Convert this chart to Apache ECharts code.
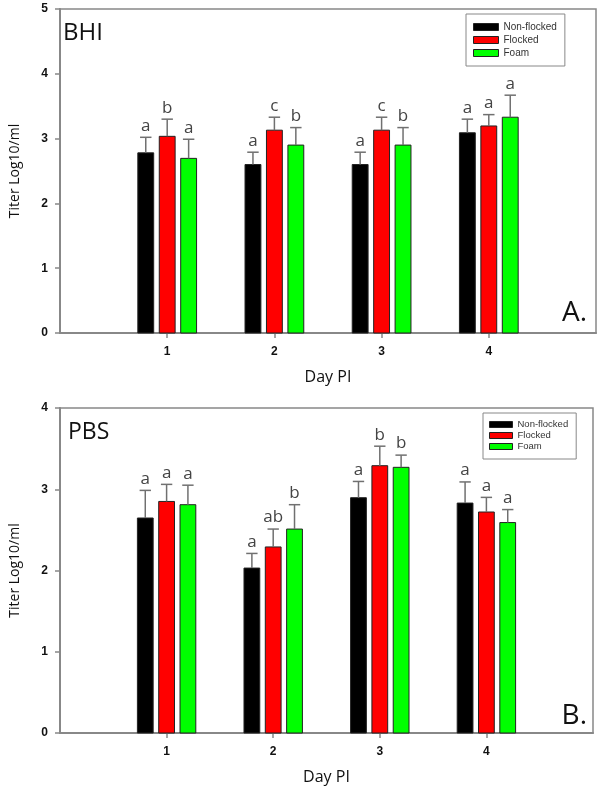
<!DOCTYPE html>
<html><head><meta charset="utf-8">
<script src="https://cdn.jsdelivr.net/npm/echarts@6/dist/echarts.min.js"></script>
<style>html,body{margin:0;padding:0;background:#fff}#c{width:600px;height:792px}</style>
</head><body><div id="c"></div>
<script>
// ---- data ----
const days = [1, 2, 3, 4];
const dayLabels = ['1', '2', '3', '4'];
const treatments = ['Non-flocked', 'Flocked', 'Foam'];
const yTicksBHI = [0, 1, 2, 3, 4, 5];
const yTicksPBS = [0, 1, 2, 3, 4];

// BHI panel (A.)
const bhiNonFlocked = [2.78, 2.60, 2.60, 3.09];
const bhiNonFlockedErr = [0.24, 0.19, 0.19, 0.21];
const bhiNonFlockedLetters = ['a', 'a', 'a', 'a'];
const bhiFlocked = [3.035, 3.13, 3.13, 3.195];
const bhiFlockedErr = [0.265, 0.20, 0.20, 0.175];
const bhiFlockedLetters = ['b', 'c', 'c', 'a'];
const bhiFoam = [2.695, 2.90, 2.90, 3.33];
const bhiFoamErr = [0.295, 0.27, 0.27, 0.34];
const bhiFoamLetters = ['a', 'b', 'b', 'a'];

// PBS panel (B.)
const pbsNonFlocked = [2.646, 2.03, 2.896, 2.83];
const pbsNonFlockedErr = [0.34, 0.18, 0.20, 0.26];
const pbsNonFlockedLetters = ['a', 'a', 'a', 'a'];
const pbsFlocked = [2.85, 2.29, 3.29, 2.72];
const pbsFlockedErr = [0.21, 0.22, 0.24, 0.18];
const pbsFlockedLetters = ['a', 'ab', 'b', 'a'];
const pbsFoam = [2.81, 2.51, 3.27, 2.59];
const pbsFoamErr = [0.24, 0.30, 0.15, 0.16];
const pbsFoamLetters = ['a', 'b', 'b', 'a'];

// ---- styling ----
const colors = { 'Non-flocked': '#000000', 'Flocked': '#ff0000', 'Foam': '#00ff00' };
const offsets = { 'Non-flocked': -0.2, 'Flocked': 0, 'Foam': 0.2 };
const AX = '#888888';
const labelFont = 'Liberation Sans, Arial, sans-serif';
const textFont = '"Open Sans", "Noto Sans", sans-serif';

function makeRender(name, letters) {
  const off = offsets[name], col = colors[name];
  return function (params, api) {
    const x = api.value(0) + off, y = api.value(1), e = api.value(2);
    const unit = api.size([1, 0])[0];
    const bw = unit * 0.148;
    const base = api.coord([x, 0]);
    const top = api.coord([x, y]);
    const et = api.coord([x, y + e]);
    const cx = base[0];
    const cap = bw * 0.36;
    return {
      type: 'group',
      children: [
        { type: 'rect', shape: { x: cx - bw / 2, y: top[1], width: bw, height: base[1] - top[1] },
          style: { fill: col, stroke: '#222', lineWidth: 1 } },
        { type: 'line', shape: { x1: cx, y1: top[1], x2: cx, y2: et[1] },
          style: { stroke: '#707070', lineWidth: 1.5 } },
        { type: 'line', shape: { x1: cx - cap, y1: et[1], x2: cx + cap, y2: et[1] },
          style: { stroke: '#707070', lineWidth: 1.5 } },
        { type: 'text', style: { x: cx, y: et[1] - 3, text: letters[params.dataIndex],
          align: 'center', verticalAlign: 'bottom', fontSize: 17, fontFamily: textFont, fill: '#444' } }
      ]
    };
  };
}

function seriesFor(name, means, errs, letters, idx) {
  return {
    type: 'custom', name: name, xAxisIndex: idx, yAxisIndex: idx,
    itemStyle: { color: colors[name], borderColor: '#222', borderWidth: 1 },
    data: days.map((d, i) => [d, means[i], errs[i]]),
    encode: { x: 0, y: 1 },
    renderItem: makeRender(name, letters),
    clip: false
  };
}

function xAxisFor(idx) {
  return {
    gridIndex: idx, type: 'value', min: 0, max: 5, interval: 1,
    axisLine: { show: true, onZero: false, lineStyle: { color: AX, width: 2 } },
    axisTick: { show: true, length: 5, customValues: days, lineStyle: { color: AX, width: 1.5 } },
    axisLabel: { customValues: days, margin: 13, color: '#111', fontSize: 12, fontWeight: 'bold', fontFamily: labelFont,
      formatter: v => { const i = days.indexOf(v); return i >= 0 ? dayLabels[i] : ''; } },
    splitLine: { show: false },
    name: 'Day PI', nameLocation: 'middle', nameGap: 36,
    nameTextStyle: { fontSize: 16, fontFamily: textFont, color: '#111' }
  };
}
function yAxisFor(idx, ticks) {
  return {
    gridIndex: idx, type: 'value', min: ticks[0], max: ticks[ticks.length - 1], interval: 1,
    axisLine: { show: true, lineStyle: { color: AX, width: 2 } },
    axisTick: { show: true, length: 5, lineStyle: { color: AX, width: 1.5 } },
    axisLabel: { margin: 12, color: '#111', fontSize: 12, fontWeight: 'bold', fontFamily: labelFont },
    splitLine: { show: false },
    name: 'Titer Log10/ml', nameLocation: 'middle', nameGap: 38, nameRotate: 90,
    nameTextStyle: { fontSize: 14, fontFamily: textFont, color: '#111' }
  };
}

function legendFor(left, top, fs, lh, iw, ih, pad, gap) {
  return {
    orient: 'vertical', left: left, top: top, icon: 'rect',
    itemWidth: iw, itemHeight: ih, itemGap: gap, padding: pad,
    borderColor: AX, borderWidth: 1, backgroundColor: '#fff',
    textStyle: { fontSize: fs, lineHeight: lh, color: '#333', fontFamily: labelFont, padding: [0, 0, 0, 0] },
    selectedMode: false,
    data: treatments.map(n => ({ name: n, itemStyle: { color: colors[n], borderColor: '#222', borderWidth: 1 } }))
  };
}

const chart = echarts.init(document.getElementById('c'), null, { renderer: 'canvas' });
chart.setOption({
  animation: false,
  backgroundColor: '#ffffff',
  grid: [
    { left: 54, top: 9, width: 542, height: 324, show: true, borderColor: AX, borderWidth: 1.5 },
    { left: 54, top: 408, width: 539, height: 325, show: true, borderColor: AX, borderWidth: 1.5 }
  ],
  xAxis: [xAxisFor(0), xAxisFor(1)],
  yAxis: [yAxisFor(0, yTicksBHI), yAxisFor(1, yTicksPBS)],
  legend: [
    legendFor(466, 14, 10, 12, 25, 7, [7, 8, 7, 7], 1),
    legendFor(483, 413, 9.5, 11, 23, 6, [6, 8, 7, 6], 0)
  ],
  graphic: [
    { type: 'text', left: 63, top: 21, style: { text: 'BHI', fontSize: 24, fontFamily: textFont, fill: '#111' } },
    { type: 'text', right: 13, top: 299, style: { text: 'A.', fontSize: 28, fontFamily: textFont, fill: '#111' } },
    { type: 'text', left: 68, top: 421, style: { text: 'PBS', fontSize: 23, fontFamily: textFont, fill: '#111' } },
    { type: 'text', right: 13, top: 702, style: { text: 'B.', fontSize: 28, fontFamily: textFont, fill: '#111' } }
  ],
  series: [
    seriesFor('Non-flocked', bhiNonFlocked, bhiNonFlockedErr, bhiNonFlockedLetters, 0),
    seriesFor('Flocked', bhiFlocked, bhiFlockedErr, bhiFlockedLetters, 0),
    seriesFor('Foam', bhiFoam, bhiFoamErr, bhiFoamLetters, 0),
    seriesFor('Non-flocked', pbsNonFlocked, pbsNonFlockedErr, pbsNonFlockedLetters, 1),
    seriesFor('Flocked', pbsFlocked, pbsFlockedErr, pbsFlockedLetters, 1),
    seriesFor('Foam', pbsFoam, pbsFoamErr, pbsFoamLetters, 1)
  ]
});
</script>
</body></html>
